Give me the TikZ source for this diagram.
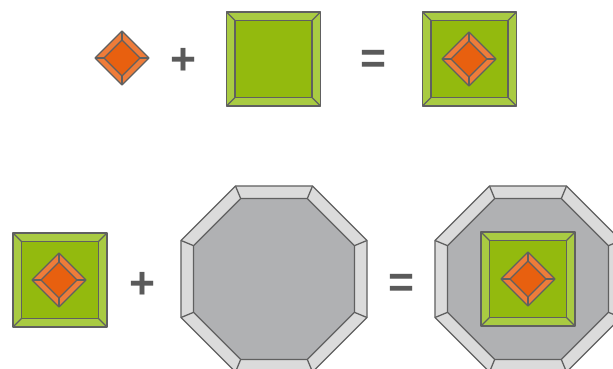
\documentclass[tikz,border=0pt]{standalone}
\usepackage{fontspec}
\setmainfont{Liberation Sans}
\usetikzlibrary{positioning}
\definecolor{gemdark}{HTML}{E8600F}
\definecolor{gemlight}{HTML}{EE7C3A}
\definecolor{boxdark}{HTML}{93BA0E}
\definecolor{boxlight}{HTML}{A9CB42}
\definecolor{stonedark}{HTML}{B0B1B3}
\definecolor{stonelight}{HTML}{DBDBDB}
\definecolor{rimgray}{HTML}{606060}
\definecolor{opgray}{HTML}{5A5A5A}
\tikzset{
  rim/.style={draw=rimgray, line width=1.1pt, line join=round},
  opsign/.style={text=opgray, font=\fontsize{38}{38}\selectfont\bfseries, inner sep=0pt},
  % 菱形宝石
  gem/.pic={
    \filldraw[rim, fill=gemlight] (27,0) -- (0,27) -- (-27,0) -- (0,-27) -- cycle;
    \filldraw[rim, fill=gemdark] (18,0) -- (0,18) -- (-18,0) -- (0,-18) -- cycle;
    \foreach \a in {0,90,180,270} \draw[rim] (\a:18) -- (\a:27);
  },
  % 绿色方盒
  greenbox/.pic={
    \filldraw[rim, fill=boxlight] (-47,-47) rectangle (47,47);
    \filldraw[rim, fill=boxdark] (-38.5,-38.5) rectangle (38.5,38.5);
    \foreach \sx/\sy in {1/1,1/-1,-1/1,-1/-1}
      \draw[rim] ({38.5*\sx},{38.5*\sy}) -- ({47*\sx},{47*\sy});
  },
  % 八边形底座
  octagon/.pic={
    \filldraw[rim, fill=stonelight] (22.5:100.7) \foreach \a in {67.5,112.5,...,337.5} { -- (\a:100.7)} -- cycle;
    \filldraw[rim, fill=stonedark] (22.5:87.1) \foreach \a in {67.5,112.5,...,337.5} { -- (\a:87.1)} -- cycle;
    \foreach \a in {22.5,67.5,...,337.5} \draw[rim] (\a:87.1) -- (\a:100.7);
  }
}

\begin{document}
\begin{tikzpicture}[x=0.03cm, y=-0.03cm]
  \useasboundingbox (0,0) rectangle (613,369);
  \clip (0,0) rectangle (613,369);

  % 第一行：宝石 + 方盒 = 盒中宝石
  \pic (gemA) at (122,58) {gem};
  \node[opsign] (plusA) at (183,61.5) {+};
  \pic (boxA) at (273.5,59) {greenbox};
  \node[opsign] (eqA) at (373,61.5) {=};
  \pic (boxB) at (469.5,59) {greenbox};
  \pic (gemB) at (469,59) {gem};

  % 第二行：盒中宝石 + 八边形 = 八边形中的盒子
  \pic (boxC) at (60,280) {greenbox};
  \pic (gemC) at (59,280) {gem};
  \node[opsign] (plusB) at (142,285.5) {+};
  \pic (octA) at (274,279) {octagon};
  \node[opsign] (eqB) at (401,285.5) {=};
  \pic (octB) at (528,279) {octagon};
  \pic (boxD) at (528,279) {greenbox};
  \pic (gemD) at (528,279) {gem};
\end{tikzpicture}
\end{document}
